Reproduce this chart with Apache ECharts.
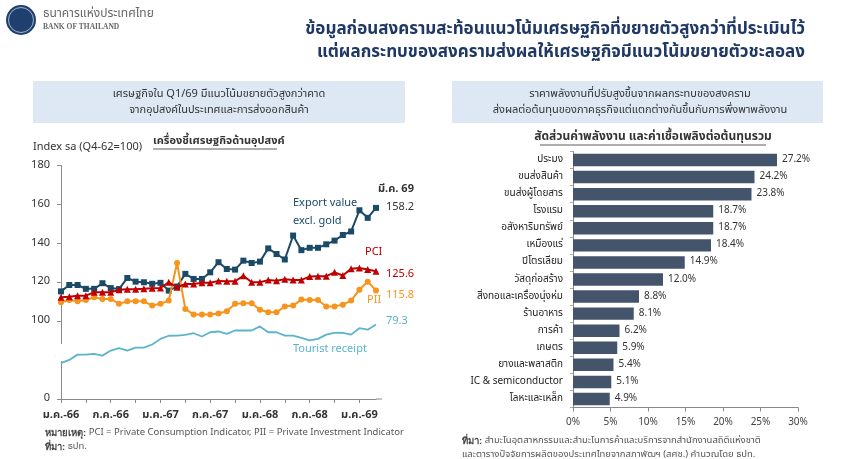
<!DOCTYPE html>
<html><head><meta charset="utf-8">
<script src="https://cdn.jsdelivr.net/npm/echarts@6/dist/echarts.min.js"></script>
<style>html,body{margin:0;padding:0;background:#fff}#c{width:860px;height:459px}</style>
</head><body><div id="c"></div>
<script>
// ---- Left chart data (Index sa, Q4-62 = 100) ----
const months = ['ม.ค.-66','ก.พ.-66','มี.ค.-66','เม.ย.-66','พ.ค.-66','มิ.ย.-66','ก.ค.-66','ส.ค.-66','ก.ย.-66','ต.ค.-66','พ.ย.-66','ธ.ค.-66',
 'ม.ค.-67','ก.พ.-67','มี.ค.-67','เม.ย.-67','พ.ค.-67','มิ.ย.-67','ก.ค.-67','ส.ค.-67','ก.ย.-67','ต.ค.-67','พ.ย.-67','ธ.ค.-67',
 'ม.ค.-68','ก.พ.-68','มี.ค.-68','เม.ย.-68','พ.ค.-68','มิ.ย.-68','ก.ค.-68','ส.ค.-68','ก.ย.-68','ต.ค.-68','พ.ย.-68','ธ.ค.-68',
 'ม.ค.-69','ก.พ.-69','มี.ค.-69'];
const exportValue = [115.3,118.6,118.6,116.6,116.6,119.5,117.0,116.5,122.2,120.3,120.0,119.2,119.7,115.7,117.8,124.3,121.7,121.7,125.1,130.3,126.8,126.5,131.1,129.9,130.6,137.4,134.5,131.7,144.0,136.5,137.7,137.7,139.5,141.4,144.3,146.1,157.0,153.1,158.2];
const pci = [112.3,112.6,113.1,113.1,114.9,114.9,114.9,116.1,116.4,116.4,116.6,116.9,117.1,120.0,117.4,119.1,119.1,119.7,119.7,120.7,120.5,120.5,123.3,120.0,120.0,121.1,120.8,121.6,121.2,121.2,122.9,123.1,123.1,125.1,123.5,126.9,127.3,126.5,125.6];
const pii = [109.7,110.9,110.2,110.9,112.3,111.4,111.4,108.9,110.2,110.2,110.2,108.0,108.9,110.6,129.9,106.3,103.4,103.4,103.4,103.9,105.1,108.9,109.2,109.2,105.9,104.6,104.6,107.5,108.0,111.1,110.9,110.9,107.5,107.6,108.5,110.6,116.2,120.3,115.8];
const tourist = [59.4,61.1,63.8,63.8,64.2,63.3,65.9,67.1,65.9,67.4,67.4,69.0,71.9,73.5,73.6,74.0,74.8,73.1,75.3,75.7,74.5,76.2,76.2,76.2,78.3,75.3,75.3,73.6,73.6,72.4,71.1,71.9,74.1,75.0,75.0,74.1,77.4,76.6,79.3];
const leftTicks = [60,100,120,140,160,180];

// ---- Right chart data (% share of energy & fuel cost in total cost) ----
const sectors = ['ประมง','ขนส่งสินค้า','ขนส่งผู้โดยสาร','โรงแรม','อสังหาริมทรัพย์','เหมืองแร่','ปิโตรเลียม','วัสดุก่อสร้าง','สิ่งทอและเครื่องนุ่งห่ม','ร้านอาหาร','การค้า','เกษตร','ยางและพลาสติก','IC & semiconductor','โลหะและเหล็ก'];
const energyShare = [27.2,24.2,23.8,18.7,18.7,18.4,14.9,12.0,8.8,8.1,6.2,5.9,5.4,5.1,4.9];
const pctTicks = [0,5,10,15,20,25,30];

const FF = '"Noto Sans Thai","Noto Sans","DejaVu Sans",sans-serif';
const cExp = '#1b4a66', cPci = '#c00000', cPii = '#f7941d', cTour = '#5ab4cc';

function txt(x,y,text,o){o=o||{};return {type:'text',x:x,y:y,z:o.z||50,silent:true,style:{text:text,fill:o.fill||'#333',font:(o.fw||'normal')+' '+(o.fs||11)+'px '+FF,align:o.align||'left',verticalAlign:'middle',rich:o.rich}};}
function ln(x1,y1,x2,y2,c,w){return {type:'line',z:50,silent:true,shape:{x1:x1,y1:y1,x2:x2,y2:y2},style:{stroke:c,lineWidth:w||1}};}

const chart = echarts.init(document.getElementById('c'),null,{renderer:'canvas'});
const endLbl = (color,off)=>({show:true,distance:10,offset:off||[0,0],color:color,fontSize:11,fontFamily:FF,formatter:p=>Number(p.value).toFixed(1)});

chart.setOption({
  animation:false,
  textStyle:{fontFamily:FF},
  grid:[
    {left:61,width:315,top:165.5,height:233.5},
    {left:573,width:225,top:151.5,height:256}
  ],
  xAxis:[
    {gridIndex:0,type:'category',data:months,boundaryGap:false,
     axisLine:{lineStyle:{color:'#8a8a8a'}},
     axisTick:{show:true,interval:2,length:4,lineStyle:{color:'#8a8a8a'}},
     axisLabel:{interval:5,color:'#333',fontSize:11,fontWeight:'bold',margin:11},
     splitLine:{show:false}},
    {gridIndex:1,type:'value',min:0,max:30,interval:5,
     axisLine:{show:true,lineStyle:{color:'#8a8a8a'}},
     axisTick:{show:true,length:4,lineStyle:{color:'#8a8a8a'}},
     axisLabel:{color:'#444',fontSize:10,margin:10,formatter:v=>v+'%'},
     splitLine:{show:false}}
  ],
  yAxis:[
    {gridIndex:0,type:'value',min:60,max:180,interval:20,
     axisLine:{show:true,lineStyle:{color:'#8a8a8a'}},
     axisTick:{show:true,length:4,customValues:leftTicks,lineStyle:{color:'#8a8a8a'}},
     axisLabel:{customValues:leftTicks,color:'#333',fontSize:11,margin:11,formatter:v=>v===60?'0':String(v)},
     splitLine:{show:false}},
    {gridIndex:0,type:'value',min:41,max:161,show:false,splitLine:{show:false}},
    {gridIndex:1,type:'category',data:sectors,inverse:true,
     axisLine:{show:true,lineStyle:{color:'#8a8a8a'}},
     axisTick:{show:true,length:3,lineStyle:{color:'#aaa'}},
     axisLabel:{color:'#222',fontSize:10,margin:10}}
  ],
  series:[
    {name:'Tourist receipt',type:'line',xAxisIndex:0,yAxisIndex:1,data:tourist,showSymbol:false,symbol:'none',
     lineStyle:{color:cTour,width:1.8},itemStyle:{color:cTour},endLabel:endLbl(cTour,[0,-3]),z:2},
    {name:'Export value excl. gold',type:'line',xAxisIndex:0,yAxisIndex:0,data:exportValue,symbol:'rect',symbolSize:6,showAllSymbol:true,
     lineStyle:{color:cExp,width:2},itemStyle:{color:cExp},endLabel:endLbl('#333',[0,0]),z:3},
    {name:'PII',type:'line',xAxisIndex:0,yAxisIndex:0,data:pii,symbol:'circle',symbolSize:6,showAllSymbol:true,
     lineStyle:{color:cPii,width:2},itemStyle:{color:cPii},endLabel:endLbl(cPii,[0,5]),z:4},
    {name:'PCI',type:'line',xAxisIndex:0,yAxisIndex:0,data:pci,symbol:'triangle',symbolSize:7,showAllSymbol:true,
     lineStyle:{color:cPci,width:2},itemStyle:{color:cPci},endLabel:endLbl(cPci,[0,3]),z:5},
    {name:'share',type:'bar',xAxisIndex:1,yAxisIndex:2,data:energyShare,barCategoryGap:'27%',
     itemStyle:{color:'#44546a'},
     label:{show:true,position:'right',distance:5,color:'#333',fontSize:10,formatter:p=>p.value.toFixed(1)+'%'}}
  ],
  graphic:[
    // logo
    {type:'circle',z:50,silent:true,shape:{cx:21,cy:20,r:15},style:{fill:'#1f3f6e'}},
    {type:'circle',z:51,silent:true,shape:{cx:21,cy:20,r:12.5},style:{fill:'none',stroke:'#c9d4e4',lineWidth:0.8}},
    txt(43,15,'ธนาคารแห่งประเทศไทย',{fs:12,fill:'#666'}),
    {type:'text',x:43,y:27,z:50,silent:true,style:{text:'BANK OF THAILAND',fill:'#666',font:'bold 7.5px "Liberation Serif","DejaVu Serif",serif',verticalAlign:'middle'}},
    // title
    txt(805,31,'ข้อมูลก่อนสงครามสะท้อนแนวโน้มเศรษฐกิจที่ขยายตัวสูงกว่าที่ประเมินไว้',{fs:17,fill:'#1f3864',align:'right',fw:'bold'}),
    txt(805,54,'แต่ผลกระทบของสงครามส่งผลให้เศรษฐกิจมีแนวโน้มขยายตัวชะลอลง',{fs:17,fill:'#1f3864',align:'right',fw:'bold'}),
    // header boxes
    {type:'rect',z:40,silent:true,shape:{x:33,y:81,width:372,height:42},style:{fill:'#dde8f4'}},
    {type:'rect',z:40,silent:true,shape:{x:452,y:81,width:371,height:42},style:{fill:'#dde8f4'}},
    txt(219,95,'เศรษฐกิจใน Q1/69 มีแนวโน้มขยายตัวสูงกว่าคาด',{fs:11,align:'center'}),
    txt(219,111,'จากอุปสงค์ในประเทศและการส่งออกสินค้า',{fs:11,align:'center'}),
    txt(640,95,'ราคาพลังงานที่ปรับสูงขึ้นจากผลกระทบของสงคราม',{fs:11,align:'center'}),
    txt(640,111,'ส่งผลต่อต้นทุนของภาคธุรกิจแต่แตกต่างกันขึ้นกับการพึ่งพาพลังงาน',{fs:11,align:'center'}),
    // left chart captions
    txt(33,148,'Index sa (Q4-62=100)',{fs:11}),
    txt(153,142,'เครื่องชี้เศรษฐกิจด้านอุปสงค์',{fs:11,fw:'bold'}),
    ln(153,149,277,149,'#333',0.8),
    txt(378,190,'มี.ค. 69',{fs:11,fw:'bold'}),
    txt(293,204,'Export value',{fs:11,fill:cExp}),
    txt(293,222,'excl. gold',{fs:11,fill:cExp}),
    txt(365,253,'PCI',{fs:11,fill:cPci}),
    txt(367,301,'PII',{fs:11,fill:cPii}),
    txt(293,350,'Tourist receipt',{fs:11,fill:cTour}),
    // axis line extension past last month
    ln(376,399,382,399,'#8a8a8a',1),
    // axis break mark
    {type:'rect',z:60,silent:true,shape:{x:56,y:344,width:8,height:17},style:{fill:'#fff'}},
    ln(56,357,60,351,'#666',1), ln(59,358,63,352,'#666',1),
    // right chart caption
    txt(653,138,'สัดส่วนค่าพลังงาน และค่าเชื้อเพลิงต่อต้นทุนรวม',{fs:12,fw:'bold',align:'center'}),
    ln(540,145,766,145,'#333',0.8),
    // footnotes
    txt(45,433,'{b|หมายเหตุ:} PCI = Private Consumption Indicator, PII = Private Investment Indicator',{fs:9.5,fill:'#555',rich:{b:{fontWeight:'bold',fontSize:9.5,fill:'#444'}}}),
    txt(45,447,'{b|ที่มา:} ธปท.',{fs:9.5,fill:'#555',rich:{b:{fontWeight:'bold',fontSize:9.5,fill:'#444'}}}),
    txt(462,441,'{b|ที่มา:} สำมะโนอุตสาหกรรมและสำมะโนการค้าและบริการจากสำนักงานสถิติแห่งชาติ',{fs:9.5,fill:'#555',rich:{b:{fontWeight:'bold',fontSize:9.5,fill:'#444'}}}),
    txt(462,455,'และตารางปัจจัยการผลิตของประเทศไทยจากสภาพัฒฯ (สศช.) คำนวณโดย ธปท.',{fs:9.5,fill:'#555'})
  ]
});
</script></body></html>
